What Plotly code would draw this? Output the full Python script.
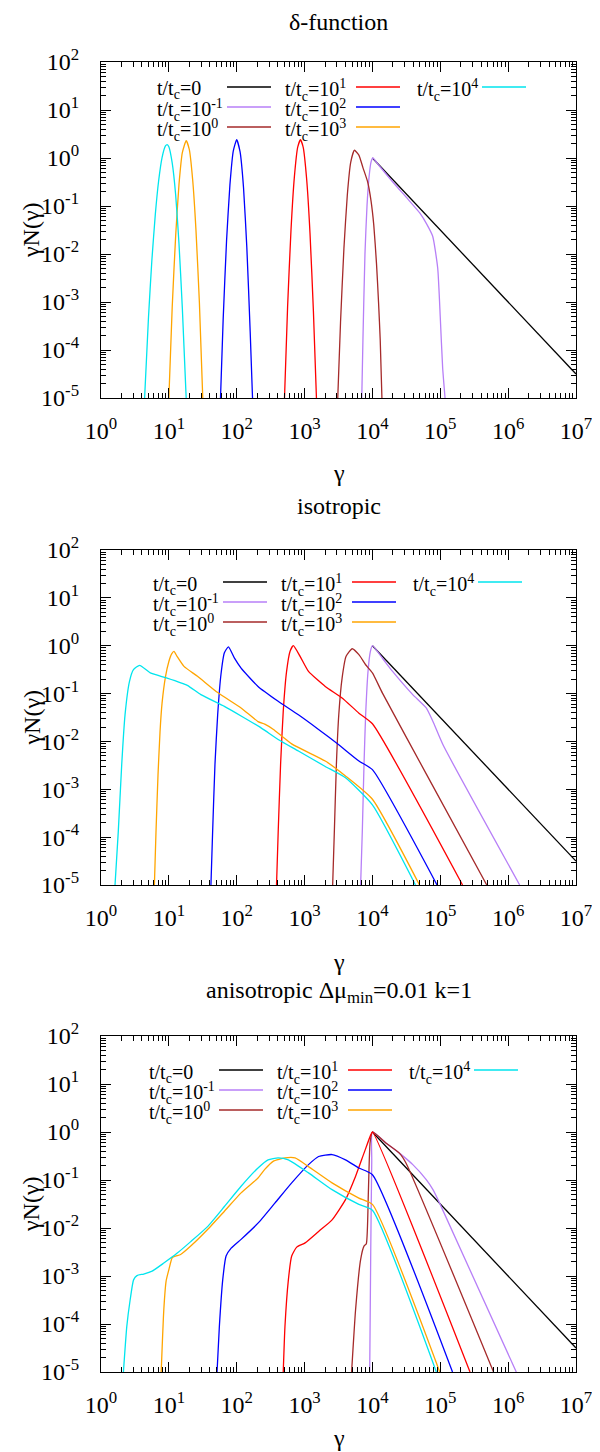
import plotly.graph_objects as go

# ---------------- data ----------------
series_names = ["t/t<sub>c</sub>=0", "t/t<sub>c</sub>=10<sup>-1</sup>", "t/t<sub>c</sub>=10<sup>0</sup>",
                "t/t<sub>c</sub>=10<sup>1</sup>", "t/t<sub>c</sub>=10<sup>2</sup>",
                "t/t<sub>c</sub>=10<sup>3</sup>", "t/t<sub>c</sub>=10<sup>4</sup>"]
series_colors = ["#000000", "#b77ff7", "#a52a2a", "#ff0000", "#0000ff", "#ffa500", "#00e5ee"]
panel_titles = ["δ-function", "isotropic", "anisotropic Δμ<sub>min</sub>=0.01 k=1"]
x_tick_labels = ["10<sup>%d</sup>" % k for k in range(0, 8)]
y_tick_labels = ["10<sup>%d</sup>" % k for k in range(-5, 3)]

# ---- panel 1 : delta-function ----
d_t0_g = [1e4, 1e7]
d_t0_y = [1.0, 3.16e-5]
d_tm1_g = [6966, 7244, 7762, 8318, 8913, 9550, 10120, 12590, 19950, 31620, 50120, 63100, 77300, 91600, 100000, 108400, 117500]
d_tm1_y = [1e-5, 1.6e-4, 0.01, 0.1, 0.40, 0.83, 1.0, 0.69, 0.316, 0.151, 0.071, 0.042, 0.0234, 5.1e-3, 4.7e-4, 4.2e-5, 1e-5]
d_t1e0_g = [3083, 3388, 3802, 4266, 4786, 5420, 6310, 7244, 8511, 9550, 10470, 11480, 12300, 13030, 13800]
d_t1e0_y = [1e-5, 3.8e-4, 0.0132, 0.17, 0.81, 1.45, 1.15, 0.63, 0.316, 0.126, 0.040, 6.3e-3, 1e-3, 1.6e-4, 1e-5]
d_t1e1_g = [506, 562, 631, 708, 794, 869, 955, 1072, 1202, 1349, 1496]
d_t1e1_y = [1e-5, 7.9e-4, 0.0316, 0.41, 1.70, 2.41, 1.66, 0.37, 0.0275, 6.6e-4, 1e-5]
d_t1e2_g = [57.7, 63.1, 70.8, 79.4, 89.1, 100, 112, 126, 141, 158, 171]
d_t1e2_y = [1e-5, 4.2e-4, 0.0186, 0.275, 1.41, 2.41, 1.35, 0.24, 0.0135, 2.4e-4, 1e-5]
d_t1e3_g = [10, 11.2, 12.6, 14.1, 15.8, 18.0, 20.0, 22.4, 25.1, 28.2, 31.6]
d_t1e3_y = [1e-5, 7.8e-4, 0.024, 0.28, 1.29, 2.29, 1.51, 0.36, 0.031, 9.5e-4, 1e-5]
d_t1e4_g = [4.39, 5.01, 5.62, 6.31, 7.08, 7.94, 8.91, 9.44, 10, 11.2, 12.6, 14.1, 15.8, 18.0]
d_t1e4_y = [1e-5, 4.8e-4, 7.4e-3, 0.066, 0.34, 1.02, 1.78, 1.90, 1.72, 0.79, 0.17, 0.0166, 7.4e-4, 1e-5]

# ---- panel 2 : isotropic ----
i_t0_g = [1e4, 1e7]
i_t0_y = [1.0, 3.16e-5]
i_tm1_g = [6699, 7096, 7516, 7943, 8610, 9333, 10000, 14130, 19820, 39260, 62090, 77980, 109600, 1479000]
i_tm1_y = [1e-5, 1.35e-4, 3.3e-3, 0.036, 0.29, 0.76, 1.0, 0.54, 0.29, 0.095, 0.050, 0.026, 8.5e-3, 1e-5]
i_t1e0_g = [2594, 2748, 2944, 3192, 3573, 4093, 5035, 6324, 7943, 10000, 14060, 62090, 484200]
i_t1e0_y = [1e-5, 1.35e-4, 3.3e-3, 0.036, 0.21, 0.60, 0.865, 0.65, 0.40, 0.27, 0.102, 2.1e-3, 1e-5]
i_t1e1_g = [386, 409, 443, 485, 543, 610, 682, 859, 1143, 2018, 3573, 6324, 10000, 212800]
i_t1e1_y = [1e-5, 1.35e-4, 3.3e-3, 0.043, 0.29, 0.76, 1.0, 0.60, 0.29, 0.141, 0.081, 0.039, 0.0234, 1e-5]
i_t1e2_g = [41.7, 44.2, 47.8, 52.4, 58.6, 65.8, 75.5, 92.7, 116, 206, 408, 811, 1607, 3192, 6324, 10000, 89540]
i_t1e2_y = [1e-5, 1.35e-4, 3.3e-3, 0.036, 0.25, 0.71, 0.95, 0.55, 0.34, 0.141, 0.069, 0.036, 0.0178, 8.5e-3, 3.9e-3, 2.57e-3, 1e-5]
i_t1e3_g = [6.12, 6.46, 6.92, 7.41, 7.94, 8.91, 10, 11.0, 11.9, 13.2, 16.7, 26.4, 52.4, 116, 206, 259, 344, 646, 2018, 4009, 10000, 49430]
i_t1e3_y = [1e-5, 1.26e-4, 2.0e-3, 0.0158, 0.063, 0.224, 0.468, 0.676, 0.76, 0.60, 0.37, 0.23, 0.105, 0.050, 0.026, 0.023, 0.018, 8.9e-3, 3.9e-3, 1.9e-3, 6.2e-4, 1e-5]
i_t1e4_g = [1.61, 1.80, 2.02, 2.26, 2.63, 3.01, 3.71, 5.33, 9.44, 18.7, 29.6, 65.8, 116, 231, 408, 811, 2018, 4009, 10000, 43060]
i_t1e4_y = [1e-5, 1.35e-4, 3.3e-3, 0.036, 0.18, 0.316, 0.39, 0.27, 0.21, 0.148, 0.095, 0.054, 0.034, 0.019, 0.011, 6.3e-3, 3.0e-3, 1.74e-3, 4.7e-4, 1e-5]

# ---- panel 3 : anisotropic ----
a_t0_g = [1e4, 1e7]
a_t0_y = [1.0, 3.16e-5]
a_tm1_g = [9120, 9441, 9772, 10000, 15780, 24950, 39360, 62090, 77980, 97720, 1318000]
a_tm1_y = [1e-5, 3.2e-3, 0.25, 1.0, 0.59, 0.363, 0.209, 0.102, 0.063, 0.033, 1e-5]
a_t1e0_g = [4932, 5649, 6699, 7516, 8128, 8710, 9226, 10000, 15780, 24950, 31330, 609500]
a_t1e0_y = [1e-5, 2.0e-4, 2.2e-3, 4.2e-3, 4.7e-3, 0.054, 0.59, 1.0, 0.59, 0.363, 0.224, 1e-5]
a_t1e1_g = [485, 514, 577, 646, 766, 1019, 1611, 2541, 4009, 5649, 7516, 9441, 10000, 274200]
a_t1e1_y = [1e-5, 8.9e-5, 8.3e-4, 2.6e-3, 4.0e-3, 4.9e-3, 8.5e-3, 0.0148, 0.039, 0.120, 0.363, 0.87, 1.0, 1e-5]
a_t1e2_g = [51.3, 55.5, 62.2, 69.7, 82.8, 116, 206, 365, 646, 1143, 1611, 2541, 4009, 6310, 10000, 151400]
a_t1e2_y = [1e-5, 8.9e-5, 8.3e-4, 2.6e-3, 3.8e-3, 5.8e-3, 0.0126, 0.033, 0.087, 0.209, 0.309, 0.339, 0.263, 0.178, 0.129, 1e-5]
a_t1e3_g = [7.71, 8.43, 9.12, 10, 11.2, 12.6, 14.9, 21.0, 37.2, 65.9, 116, 206, 259, 344, 514, 724, 1143, 2541, 6310, 10000, 98200]
a_t1e3_y = [1e-5, 2.0e-4, 7.9e-4, 1.35e-3, 2.4e-3, 2.6e-3, 2.8e-3, 4.2e-3, 9.3e-3, 0.0224, 0.054, 0.110, 0.166, 0.245, 0.288, 0.288, 0.19, 0.087, 0.042, 0.031, 1e-5]
a_t1e4_g = [2.14, 2.40, 2.69, 3.02, 3.39, 4.26, 5.66, 8.43, 13.3, 21.0, 37.2, 65.9, 116, 206, 290, 409, 577, 1143, 2541, 6310, 10000, 87500]
a_t1e4_y = [1e-5, 8.9e-5, 3.2e-4, 8.3e-4, 1.02e-3, 1.1e-3, 1.26e-3, 1.86e-3, 3.0e-3, 5.2e-3, 0.0107, 0.028, 0.074, 0.178, 0.263, 0.288, 0.263, 0.141, 0.063, 0.031, 0.0234, 1e-5]

panels_data = [
    [(d_t0_g, d_t0_y), (d_tm1_g, d_tm1_y), (d_t1e0_g, d_t1e0_y), (d_t1e1_g, d_t1e1_y),
     (d_t1e2_g, d_t1e2_y), (d_t1e3_g, d_t1e3_y), (d_t1e4_g, d_t1e4_y)],
    [(i_t0_g, i_t0_y), (i_tm1_g, i_tm1_y), (i_t1e0_g, i_t1e0_y), (i_t1e1_g, i_t1e1_y),
     (i_t1e2_g, i_t1e2_y), (i_t1e3_g, i_t1e3_y), (i_t1e4_g, i_t1e4_y)],
    [(a_t0_g, a_t0_y), (a_tm1_g, a_tm1_y), (a_t1e0_g, a_t1e0_y), (a_t1e1_g, a_t1e1_y),
     (a_t1e2_g, a_t1e2_y), (a_t1e3_g, a_t1e3_y), (a_t1e4_g, a_t1e4_y)],
]

# ---------------- layout geometry (pixels) ----------------
W, H = 600, 1452
X0, X1 = 93, 568
panel_px = [(54, 390), (542, 877), (1028, 1364)]
title_py = [14, 498, 984]
xlabel_py = [465, 954, 1430]
legend_row_off = [25, 32, 34]
legend_dx = [4, 0, -4]
leg_text_x = [144, 272, 404]
leg_line_x = [(215, 259), (344, 388), (470, 514)]

FONT = ("'Liberation Serif', 'Nimbus Roman', 'Nimbus Roman No9 L', FreeSerif, Tinos, 'Noto Serif', "
        "'Liberation Sans', Arimo, Arial, sans-serif")
TICK_SIZE = 24
TITLE_SIZE = 24
LEG_SIZE = 20


def fx(px):
    return px / W


def fy(py):
    return 1 - py / H


fig = go.Figure()
major_x = [10 ** k for k in range(0, 8)]
major_y = [10.0 ** k for k in range(-5, 3)]
minor_x = [m * 10 ** k for k in range(0, 7) for m in range(2, 10)]
minor_y = [m * 10.0 ** k for k in range(-5, 2) for m in range(2, 10)]

annotations = []
shapes = []
for p, (top, bot) in enumerate(panel_px):
    sfx = "" if p == 0 else str(p + 1)
    for s, (g, y) in enumerate(panels_data[p]):
        fig.add_trace(go.Scatter(x=g, y=y, mode="lines",
                                 line=dict(color=series_colors[s], width=1.3, shape="spline", smoothing=0.5),
                                 xaxis="x" + sfx, yaxis="y" + sfx, showlegend=False, name=series_names[s]))
    common = dict(showline=True, linecolor="black", linewidth=1.2, mirror="allticks", ticks="inside",
                  ticklen=10, tickwidth=1, tickcolor="black", showgrid=False, zeroline=False,
                  tickfont=dict(family=FONT, size=TICK_SIZE, color="black"), automargin=False)
    fig.layout["xaxis" + sfx] = dict(type="log", range=[0, 7], domain=[fx(X0), fx(X1)], anchor="y" + sfx,
                                     tickvals=major_x, ticktext=x_tick_labels, ticklabelstandoff=11,
                                     minor=dict(tickvals=minor_x, ticks="inside", ticklen=5, tickcolor="black", tickwidth=1),
                                     **common)
    fig.layout["yaxis" + sfx] = dict(type="log", range=[-5, 2], domain=[fy(bot), fy(top)], anchor="x" + sfx,
                                     tickvals=major_y, ticktext=y_tick_labels, ticklabelstandoff=16,
                                     minor=dict(tickvals=minor_y, ticks="inside", ticklen=5, tickcolor="black", tickwidth=1),
                                     **common)
    cx = (X0 + X1) / 2
    annotations.append(dict(text=panel_titles[p], x=fx(cx), y=fy(title_py[p]), xref="paper", yref="paper",
                            xanchor="center", yanchor="middle", showarrow=False, borderpad=0,
                            font=dict(family=FONT, size=TITLE_SIZE, color="black")))
    annotations.append(dict(text="γ", x=fx(cx), y=fy(xlabel_py[p]), xref="paper", yref="paper",
                            xanchor="center", yanchor="middle", showarrow=False, borderpad=0,
                            font=dict(family=FONT, size=TITLE_SIZE, color="black")))
    annotations.append(dict(text="γN(γ)", x=fx(23), y=fy((top + bot) / 2), xref="paper", yref="paper",
                            xanchor="center", yanchor="middle", showarrow=False, textangle=-90, borderpad=0,
                            font=dict(family=FONT, size=TITLE_SIZE, color="black")))
    for s in range(len(series_names)):
        col, row = s // 3, s % 3
        ry = top + legend_row_off[p] + 20 * row
        annotations.append(dict(text=series_names[s], x=fx(leg_text_x[col] + legend_dx[p]), y=fy(ry + 3),
                                xref="paper", yref="paper", xanchor="left", yanchor="middle", showarrow=False,
                                borderpad=0, font=dict(family=FONT, size=LEG_SIZE, color="black")))
        x_a, x_b = leg_line_x[col]
        shapes.append(dict(type="line", xref="paper", yref="paper", x0=fx(x_a + legend_dx[p]), x1=fx(x_b + legend_dx[p]),
                           y0=fy(ry), y1=fy(ry), line=dict(color=series_colors[s], width=1.3)))

fig.update_layout(width=W, height=H, margin=dict(l=0, r=0, t=0, b=0), paper_bgcolor="white",
                  plot_bgcolor="white", annotations=annotations, shapes=shapes, showlegend=False,
                  font=dict(family=FONT, size=TICK_SIZE, color="black"))
fig.write_html("out.html", config={"displayModeBar": False})
